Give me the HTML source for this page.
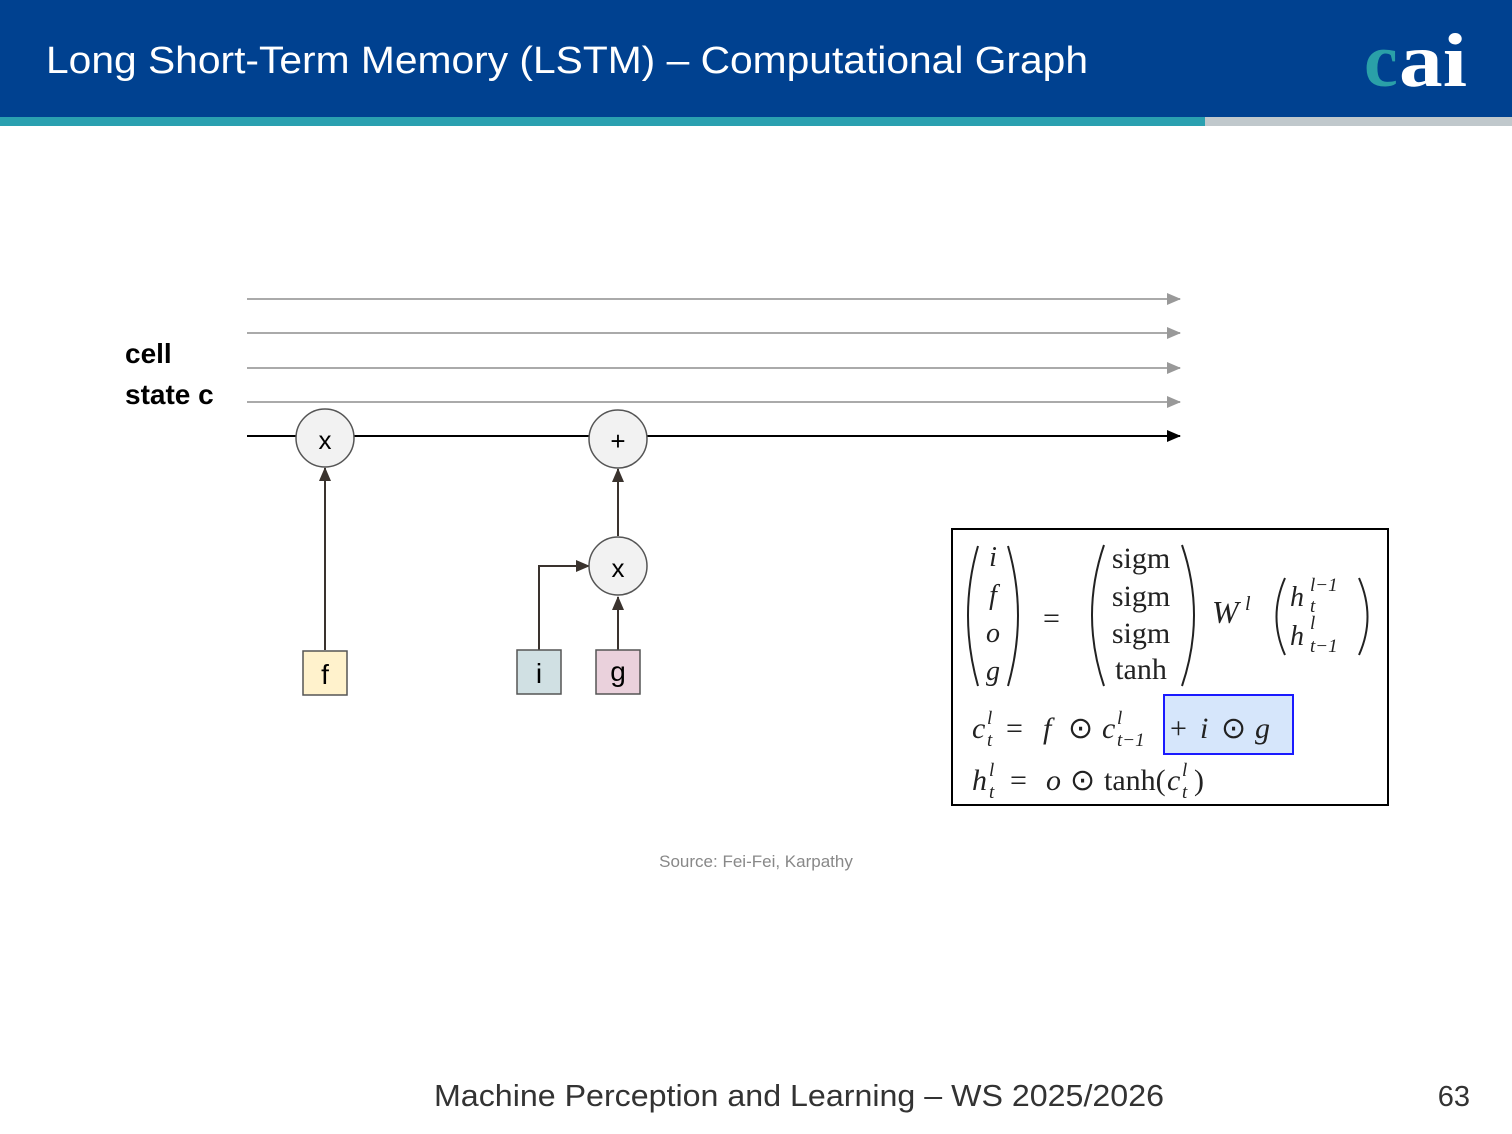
<!DOCTYPE html>
<html><head><meta charset="utf-8"><style>
html,body{margin:0;padding:0;background:#fff}
svg{display:block}
</style></head><body>
<svg width="1512" height="1134" viewBox="0 0 1512 1134" xmlns="http://www.w3.org/2000/svg">
<defs>
<marker id="ag" markerWidth="14" markerHeight="12" refX="13" refY="6" orient="auto" markerUnits="userSpaceOnUse"><path d="M0,0 L14,6 L0,12 z" fill="#999"/></marker>
<marker id="ak" markerWidth="14" markerHeight="12" refX="13" refY="6" orient="auto" markerUnits="userSpaceOnUse"><path d="M0,0 L14,6 L0,12 z" fill="#000"/></marker>
<marker id="ab" markerWidth="14" markerHeight="12" refX="13" refY="6" orient="auto" markerUnits="userSpaceOnUse"><path d="M0,0 L14,6 L0,12 z" fill="#3a332e"/></marker>
</defs>
<rect x="0" y="0" width="1512" height="118" fill="#004190"/>
<rect x="0" y="117" width="1205" height="9" fill="#2aa0b0"/>
<rect x="1205" y="117" width="307" height="9" fill="#c0c8cc"/>
<text x="46" y="73" font-family="Liberation Sans, sans-serif" font-size="38" fill="#fff" textLength="1042" lengthAdjust="spacingAndGlyphs">Long Short-Term Memory (LSTM) – Computational Graph</text>
<text x="1364" y="86" font-family="Liberation Serif, serif" font-weight="bold" font-size="76" fill="#2aa0a8">c</text>
<text x="1399" y="86" font-family="Liberation Serif, serif" font-weight="bold" font-size="76" fill="#fff" textLength="68" lengthAdjust="spacingAndGlyphs">ai</text>

<g stroke="#aaa" stroke-width="2">
<line x1="247" y1="299" x2="1180" y2="299" marker-end="url(#ag)"/>
<line x1="247" y1="333" x2="1180" y2="333" marker-end="url(#ag)"/>
<line x1="247" y1="368" x2="1180" y2="368" marker-end="url(#ag)"/>
<line x1="247" y1="402" x2="1180" y2="402" marker-end="url(#ag)"/>
</g>
<line x1="247" y1="436" x2="1180" y2="436" stroke="#000" stroke-width="2" marker-end="url(#ak)"/>
<text x="125" y="363" font-family="Liberation Sans, sans-serif" font-weight="bold" font-size="28">cell</text>
<text x="125" y="404" font-family="Liberation Sans, sans-serif" font-weight="bold" font-size="28">state c</text>

<g stroke="#3a332e" stroke-width="2" fill="none">
<line x1="325" y1="650" x2="325" y2="468" marker-end="url(#ab)"/>
<line x1="618" y1="536" x2="618" y2="469" marker-end="url(#ab)"/>
<line x1="618" y1="650" x2="618" y2="597" marker-end="url(#ab)"/>
<polyline points="539,650 539,566 589,566" marker-end="url(#ab)"/>
</g>
<g stroke="#555" stroke-width="1.5" fill="#f2f2f2">
<circle cx="325" cy="438" r="29"/>
<circle cx="618" cy="439" r="29"/>
<circle cx="618" cy="566" r="29"/>
</g>
<g font-family="Liberation Sans, sans-serif" font-size="26" text-anchor="middle" fill="#000">
<text x="325" y="449">x</text>
<text x="618" y="450">+</text>
<text x="618" y="577">x</text>
</g>
<rect x="303" y="651" width="44" height="44" fill="#fff2cc" stroke="#555" stroke-width="1.5"/>
<rect x="517" y="650" width="44" height="44" fill="#d0e0e3" stroke="#555" stroke-width="1.5"/>
<rect x="596" y="650" width="44" height="44" fill="#ead1dc" stroke="#555" stroke-width="1.5"/>
<g font-family="Liberation Sans, sans-serif" font-size="28" text-anchor="middle">
<text x="325" y="684">f</text>
<text x="539" y="683">i</text>
<text x="618" y="681">g</text>
</g>

<rect x="952" y="529" width="436" height="276" fill="#fff" stroke="#000" stroke-width="2"/>
<rect x="1164" y="695" width="129" height="59" fill="#d6e6fb" stroke="#1a1aff" stroke-width="2"/>
<g font-family="Liberation Serif, serif" fill="#222">
<g font-style="italic" font-size="28" text-anchor="middle">
<text x="993" y="566">i</text><text x="993" y="604">f</text><text x="993" y="642">o</text><text x="993" y="680">g</text>
</g>
<text x="1043" y="628" font-size="30">=</text>
<g font-size="30" text-anchor="middle">
<text x="1141" y="568">sigm</text><text x="1141" y="606">sigm</text><text x="1141" y="643">sigm</text><text x="1141" y="679">tanh</text>
</g>
<text x="1212" y="623" font-size="32" font-style="italic">W</text>
<text x="1245" y="610" font-size="20" font-style="italic">l</text>
<g font-style="italic">
<text x="1290" y="606" font-size="28">h</text><text x="1310" y="591" font-size="19">l−1</text><text x="1310" y="612" font-size="19">t</text>
<text x="1290" y="645" font-size="28">h</text><text x="1310" y="629" font-size="19">l</text><text x="1310" y="652" font-size="19">t−1</text>
</g>
<g font-size="30">
<text x="972" y="738" font-style="italic">c</text><text x="987" y="724" font-size="19" font-style="italic">l</text><text x="987" y="746" font-size="19" font-style="italic">t</text>
<text x="1006" y="738">=</text>
<text x="1043" y="738" font-style="italic">f</text>
<text x="1068" y="738">⊙</text>
<text x="1102" y="738" font-style="italic">c</text><text x="1117" y="724" font-size="19" font-style="italic">l</text><text x="1117" y="746" font-size="19" font-style="italic">t−1</text>
<text x="1170" y="738">+</text>
<text x="1200" y="738" font-style="italic">i</text>
<text x="1221" y="738">⊙</text>
<text x="1255" y="738" font-style="italic">g</text>

<text x="972" y="790" font-style="italic">h</text><text x="989" y="776" font-size="19" font-style="italic">l</text><text x="989" y="798" font-size="19" font-style="italic">t</text>
<text x="1010" y="790">=</text>
<text x="1046" y="790" font-style="italic">o</text>
<text x="1070" y="790">⊙</text>
<text x="1104" y="790">tanh(</text>
<text x="1167" y="790" font-style="italic">c</text><text x="1182" y="776" font-size="19" font-style="italic">l</text><text x="1182" y="798" font-size="19" font-style="italic">t</text>
<text x="1194" y="790">)</text>
</g>
</g>
<g fill="none" stroke="#222" stroke-width="2">
<path d="M978,546 Q958,615 978,686"/><path d="M1008,546 Q1028,615 1008,686"/>
<path d="M1104,545 Q1080,615 1104,686"/><path d="M1182,545 Q1206,615 1182,686"/>
<path d="M1285,578 Q1268,617 1285,655"/><path d="M1359,578 Q1376,617 1359,655"/>
</g>

<text x="756" y="867" font-family="Liberation Sans, sans-serif" font-size="17" fill="#888" text-anchor="middle">Source: Fei-Fei, Karpathy</text>
<text x="434" y="1106" font-family="Liberation Sans, sans-serif" font-size="31" fill="#333" textLength="730" lengthAdjust="spacingAndGlyphs">Machine Perception and Learning – WS 2025/2026</text>
<text x="1470" y="1106" font-family="Liberation Sans, sans-serif" font-size="29" fill="#333" text-anchor="end">63</text>
</svg>
</body></html>
